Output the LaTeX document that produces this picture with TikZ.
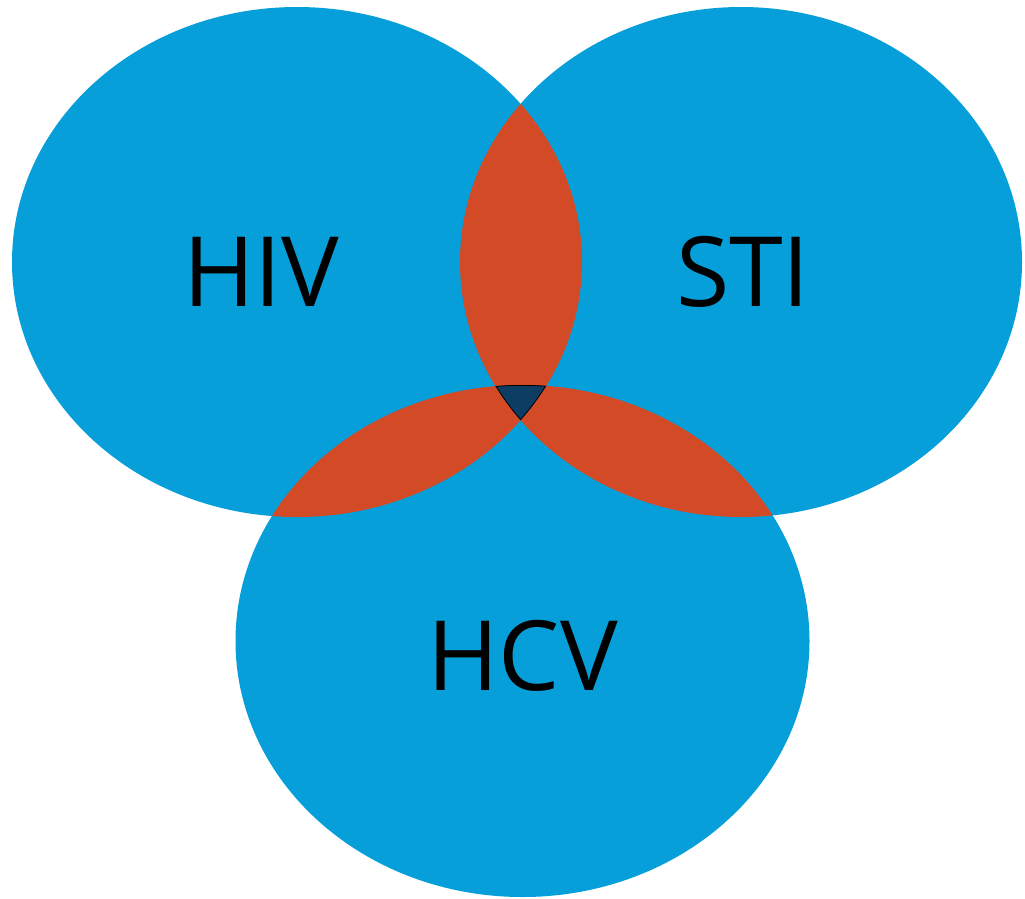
\documentclass[tikz,border=0pt]{standalone}
\usepackage{fontspec}
\setmainfont{Open Sans}
\definecolor{vblue}{RGB}{6,159,217}
\definecolor{vred}{RGB}{211,74,38}
\definecolor{vnavy}{RGB}{14,61,100}
\tikzset{
  lbl/.style={font=\fontsize{97}{110}\selectfont, text=black, inner sep=0pt, anchor=base},
  edge3/.style={draw=black, line width=1.5pt},
}
\begin{document}
\begin{tikzpicture}[x=1pt,y=-1pt]
\useasboundingbox (0,0) rectangle (1025,898);
\def\hiv{(297,262) ellipse [x radius=285, y radius=255]}
\def\sti{(741,262) ellipse [x radius=281, y radius=255]}
\def\hcv{(522.5,641) ellipse [x radius=287, y radius=256]}
% circles
\fill[vblue] \hiv;
\fill[vblue] \sti;
\fill[vblue] \hcv;
% pairwise overlaps
\begin{scope}
  \clip \hiv;
  \fill[vred] \sti;
  \fill[vred] \hcv;
\end{scope}
\begin{scope}
  \clip \sti;
  \fill[vred] \hcv;
\end{scope}
% triple overlap
\begin{scope}
  \clip \hiv;
  \clip \sti;
  \fill[vnavy] \hcv;
  \begin{scope}
    \clip \hcv;
    \draw[edge3] \hcv;
  \end{scope}
\end{scope}
\begin{scope}
  \clip \sti;
  \clip \hcv;
  \clip \hiv;
  \draw[edge3] \hiv;
\end{scope}
\begin{scope}
  \clip \hiv;
  \clip \hcv;
  \clip \sti;
  \draw[edge3] \sti;
\end{scope}
% labels
\node[lbl] (hivl) at (261.5,306) {HIV};
\node[lbl] (stil) at (743,306) {STI};
\node[lbl] (hcvl) at (522.5,690) {HCV};
\end{tikzpicture}
\end{document}
